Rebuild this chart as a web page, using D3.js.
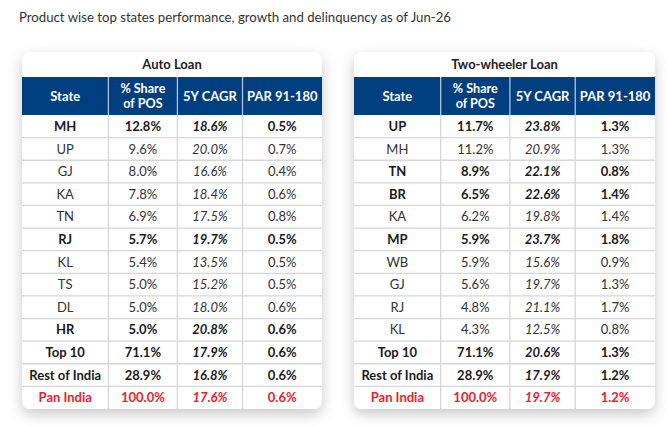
<!DOCTYPE html>
<html><head><meta charset="utf-8">
<script src="https://cdn.jsdelivr.net/npm/d3@7/dist/d3.min.js"></script>
<style>
html,body{margin:0;padding:0;background:#fff;}
svg{display:block;font-family:Lato,"Open Sans",sans-serif;}
</style></head>
<body>
<svg id="c" width="666" height="426"></svg>
<script>
const chartTitle = "Product wise top states performance, growth and delinquency as of Jun-26";
const columns = ["State", "% Share|of POS", "5Y CAGR", "PAR 91-180"];

const autoTitle = "Auto Loan";
const autoStates = ["MH","UP","GJ","KA","TN","RJ","KL","TS","DL","HR","Top 10","Rest of India","Pan India"];
const autoShare = [12.8,9.6,8.0,7.8,6.9,5.7,5.4,5.0,5.0,5.0,71.1,28.9,100.0];
const autoCagr = [18.6,20.0,16.6,18.4,17.5,19.7,13.5,15.2,18.0,20.8,17.9,16.8,17.6];
const autoPar = [0.5,0.7,0.4,0.6,0.8,0.5,0.5,0.5,0.6,0.6,0.6,0.6,0.6];
const autoBold = ["MH","RJ","HR","Top 10","Rest of India","Pan India"];

const twTitle = "Two-wheeler Loan";
const twStates = ["UP","MH","TN","BR","KA","MP","WB","GJ","RJ","KL","Top 10","Rest of India","Pan India"];
const twShare = [11.7,11.2,8.9,6.5,6.2,5.9,5.9,5.6,4.8,4.3,71.1,28.9,100.0];
const twCagr = [23.8,20.9,22.1,22.6,19.8,23.7,15.6,19.7,21.1,12.5,20.6,17.9,19.7];
const twPar = [1.3,1.3,0.8,1.4,1.4,1.8,0.9,1.3,1.7,0.8,1.3,1.2,1.2];
const twBold = ["UP","TN","BR","MP","Top 10","Rest of India","Pan India"];

const highlightRow = "Pan India";

const svg = d3.select("#c");
const defs = svg.append("defs");
const f = defs.append("filter").attr("id","sh").attr("x","-20%").attr("y","-20%").attr("width","140%").attr("height","140%");
f.append("feDropShadow").attr("dx",0).attr("dy",5).attr("stdDeviation",7).attr("flood-color","#000").attr("flood-opacity",0.22);

svg.append("text").attr("x",19).attr("y",22).attr("font-size",13.2).attr("fill","#333").text(chartTitle);

const fmt = d3.format(".1f");
const blue = "#003f7f", red = "#ee1c2e", grid = "#d6d6d6";

function table(x0, x1, title, states, share, cagr, par, bold){
  const top = 52, headTop = 77, headBot = 115, bottom = 409;
  const g = svg.append("g");
  g.append("rect").attr("x",x0).attr("y",top).attr("width",x1-x0).attr("height",bottom-top)
    .attr("rx",8).attr("fill","#fff").attr("filter","url(#sh)");
  g.append("text").attr("x",(x0+x1)/2).attr("y",69).attr("text-anchor","middle")
    .attr("font-weight",700).attr("font-size",13).attr("fill","#222").text(title);
  const fr = [0, 0.288, 0.518, 0.735, 1];
  const cx = d3.scaleLinear().domain([0,1]).range([x0,x1]);
  const colEdges = fr.map(cx);
  const y = d3.scaleBand().domain(d3.range(states.length)).range([headBot,bottom]);
  g.append("rect").attr("x",x0).attr("y",headTop).attr("width",x1-x0).attr("height",headBot-headTop).attr("fill",blue);
  columns.forEach((c,i)=>{
    const mx = (colEdges[i]+colEdges[i+1])/2;
    const parts = c.split("|");
    if(parts.length===1){
      g.append("text").attr("text-anchor","middle").attr("fill","#fff").attr("font-weight",700).attr("font-size",13)
        .attr("x",mx).attr("y",(headTop+headBot)/2+4.5).text(c);
    } else parts.forEach((p,k)=>{
      g.append("text").attr("text-anchor","middle").attr("fill","#fff").attr("font-weight",700).attr("font-size",12.6)
        .attr("x",mx).attr("y",headTop+16+k*15).text(p);
    });
  });
  states.forEach((s,i)=>{
    if(i>0) g.append("line").attr("x1",x0).attr("x2",x1).attr("y1",y(i)).attr("y2",y(i)).attr("stroke",grid).attr("stroke-width",1.3);
  });
  colEdges.slice(1,4).forEach(xx=>{
    g.append("line").attr("x1",xx).attr("x2",xx).attr("y1",headTop).attr("y2",headBot).attr("stroke","#b8c4d6").attr("stroke-width",1.3);
    g.append("line").attr("x1",xx).attr("x2",xx).attr("y1",headBot).attr("y2",bottom).attr("stroke",grid).attr("stroke-width",1.3);
  });
  states.forEach((s,i)=>{
    const isB = bold.includes(s);
    const col = s===highlightRow ? red : (isB ? "#1a1a1a" : "#333");
    const vals = [s, fmt(share[i])+"%", fmt(cagr[i])+"%", fmt(par[i])+"%"];
    vals.forEach((v,j)=>{
      g.append("text").attr("x",(colEdges[j]+colEdges[j+1])/2).attr("y",y(i)+y.bandwidth()/2+4.6)
        .attr("text-anchor","middle").attr("font-size",13).attr("fill",col)
        .attr("font-weight",isB?700:400).attr("font-style",j===2?"italic":"normal").text(v);
    });
  });
}
table(22, 322, autoTitle, autoStates, autoShare, autoCagr, autoPar, autoBold);
table(354, 655, twTitle, twStates, twShare, twCagr, twPar, twBold);
</script>
</body></html>
